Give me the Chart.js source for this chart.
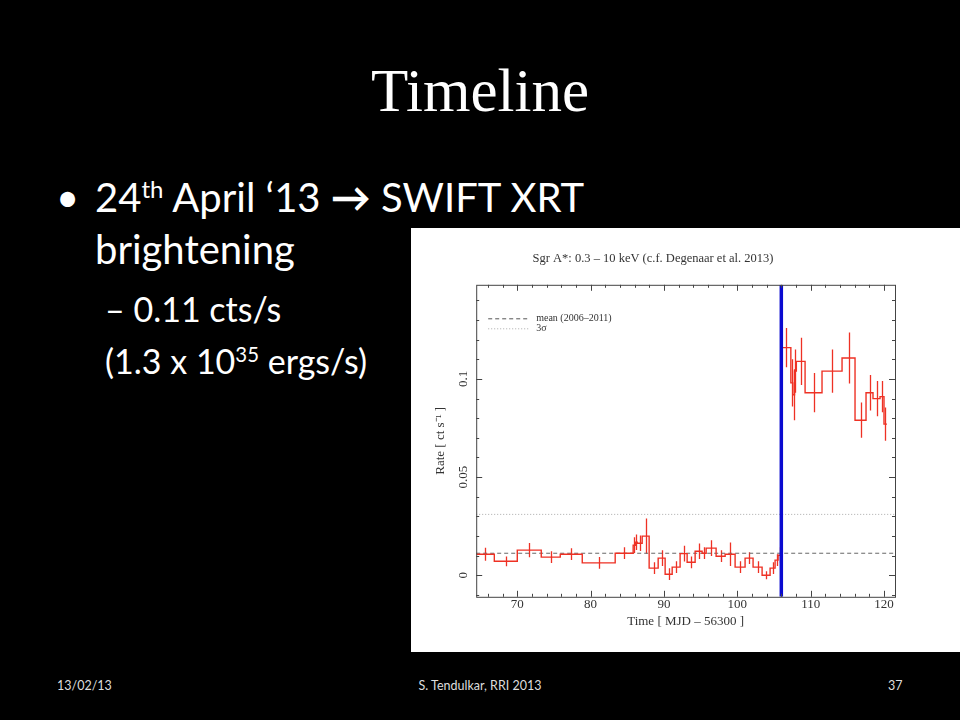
<!DOCTYPE html>
<html>
<head>
<meta charset="utf-8">
<script src="https://cdn.jsdelivr.net/npm/chart.js@4/dist/chart.umd.min.js"></script>
<style>
  body { margin: 0; background: #000; width: 960px; height: 720px; overflow: hidden; position: relative; }
  .t { position: absolute; color: #fff; white-space: nowrap; line-height: 1; }
  #title { font-family: "Liberation Serif", serif; font-size: 61px; left: 0; width: 960px; text-align: center; top: 60px; }
  .b { font-family: Lato, "Open Sans", sans-serif; font-size: 40px; }
  .s { font-family: Lato, "Open Sans", sans-serif; font-size: 34px; }
  .f { font-family: Lato, "Open Sans", sans-serif; font-size: 12.5px; color: #ddd; }
  sup { font-size: 60%; vertical-align: 0.6em; line-height: 0; }
  #panel { position: absolute; left: 411px; top: 228px; width: 549px; height: 424px; background: #fff; }
  #chart { position: absolute; left: 0; top: 0; }
</style>
</head>
<body>
<div class="t" id="title">Timeline</div>
<div class="t b" style="left:56px; top:177px;">•</div>
<div class="t b" style="left:95px; top:177px;">24<sup>th</sup> April ‘13 <b>→</b> SWIFT XRT</div>
<div class="t b" style="left:95px; top:229px;">brightening</div>
<div class="t s" style="left:105px; top:292px;">– 0.11 cts/s</div>
<div class="t s" style="left:105px; top:344px;">(1.3 x 10<sup>35</sup> ergs/s)</div>
<div class="t f" style="left:57px; top:680px;">13/02/13</div>
<div class="t f" style="left:0; width:960px; text-align:center; top:680px;">S. Tendulkar, RRI 2013</div>
<div class="t f" style="left:888px; top:680px;">37</div>

<div id="panel"><canvas id="chart" width="486" height="424"></canvas></div>

<script>
// ===== DATA =====
// bin edges (MJD - 56300), one more than the rates
const binEdges = [64.4, 66.87, 70.0, 73.27, 75.86, 78.86, 83.35, 85.8, 86.1, 86.35, 87.03, 87.98,
    89.21, 90.16, 91.12, 92.2, 93.16, 94.25, 95.2, 95.75, 97.11, 98.34, 99.7, 101.06, 102.15,
    103.38, 104.47, 105.15, 105.56, 105.97, 107.3, 107.55, 107.8, 108.05, 109.24, 111.55,
    114.28, 116.05, 117.55, 118.5, 119.46, 120.0, 120.4];
const rate = [0.0107, 0.0071, 0.0128, 0.0092, 0.0107, 0.0063, 0.0112, 0.0153, 0.0168, 0.0163,
    0.0199, 0.0036, 0.0087, 0.0005, 0.0041, 0.0110, 0.0066, 0.0122, 0.0112, 0.0138, 0.0097,
    0.0107, 0.0041, 0.0087, 0.0041, 0.0000, 0.0036, 0.0077, 0.0102,
    0.116, 0.098, 0.092, 0.104, 0.109, 0.093, 0.104, 0.1107, 0.079, 0.093, 0.090, 0.091, 0.077];
const rateErr = [0.0033, 0.0025, 0.0036, 0.003, 0.003, 0.003, 0.003, 0.004, 0.004, 0.004,
    0.009, 0.003, 0.004, 0.003, 0.003, 0.004, 0.003, 0.004, 0.003, 0.004, 0.003,
    0.006, 0.003, 0.003, 0.003, 0.002, 0.003, 0.003, 0.004,
    0.010, 0.012, 0.013, 0.011, 0.012, 0.010, 0.011, 0.013, 0.009, 0.009, 0.009, 0.008, 0.0085];
const meanRate = 0.0112;     // mean (2006-2011)
const sigmaLevel = 0.031;    // 3 sigma
const brightenTime = 106.0;  // 24 April 2013
const xRange = [64.4, 121.5];
const yRange = [-0.011, 0.148];
const xMinorStep = 2;
const yMinorStep = 0.01;

const RED = "#ee3124";
const SERIF = "'Liberation Serif', 'Times New Roman', serif";

// step line points
const stepPoints = rate.map((r, i) => ({ x: binEdges[i], y: r }));
stepPoints.push({ x: binEdges[binEdges.length - 1], y: rate[rate.length - 1] });

// ===== PLUGINS =====
const errorBars = {
    id: "errorBars",
    beforeDatasetsDraw(chart) {
        const { ctx, scales: { x, y } } = chart;
        ctx.save();
        ctx.beginPath();
        ctx.rect(chart.chartArea.left, chart.chartArea.top,
            chart.chartArea.right - chart.chartArea.left, chart.chartArea.bottom - chart.chartArea.top);
        ctx.clip();
        ctx.strokeStyle = RED;
        ctx.lineWidth = 1.3;
        rate.forEach((r, i) => {
            const px = Math.round(x.getPixelForValue((binEdges[i] + binEdges[i + 1]) / 2)) + 0.5;
            ctx.beginPath();
            ctx.moveTo(px, y.getPixelForValue(r - rateErr[i]));
            ctx.lineTo(px, y.getPixelForValue(r + rateErr[i]));
            ctx.stroke();
        });
        ctx.restore();
    }
};

const frame = {
    id: "frame",
    afterDraw(chart) {
        const { ctx, chartArea: a, scales: { x, y } } = chart;
        ctx.save();
        ctx.strokeStyle = "#444";
        ctx.lineWidth = 1;
        ctx.strokeRect(a.left + 0.5, a.top + 0.5, a.right - a.left, a.bottom - a.top);

        const tick = (px, len, vertical) => {
            ctx.beginPath();
            if (vertical) {
                ctx.moveTo(px, a.bottom); ctx.lineTo(px, a.bottom - len);
                ctx.moveTo(px, a.top); ctx.lineTo(px, a.top + len);
            } else {
                ctx.moveTo(a.left, px); ctx.lineTo(a.left + len, px);
                ctx.moveTo(a.right, px); ctx.lineTo(a.right - len, px);
            }
            ctx.stroke();
        };
        for (let v = Math.ceil(xRange[0] / xMinorStep) * xMinorStep; v <= xRange[1]; v += xMinorStep) {
            const major = Math.abs(v % 10) < 1e-6;
            tick(Math.round(x.getPixelForValue(v)) + 0.5, major ? 6 : 3, true);
        }
        for (let k = Math.ceil(yRange[0] / yMinorStep); k * yMinorStep <= yRange[1]; k++) {
            const major = k % 5 === 0;
            tick(Math.round(y.getPixelForValue(k * yMinorStep)) + 0.5, major ? 6 : 3, false);
        }

        // legend (top left, inside the frame)
        const lx = a.left + 12, ly = a.top + 34;
        ctx.strokeStyle = "#555";
        ctx.setLineDash([4, 3]);
        ctx.beginPath(); ctx.moveTo(lx, ly); ctx.lineTo(lx + 42, ly); ctx.stroke();
        ctx.strokeStyle = "#aaa";
        ctx.setLineDash([1, 2]);
        ctx.beginPath(); ctx.moveTo(lx, ly + 10); ctx.lineTo(lx + 42, ly + 10); ctx.stroke();
        ctx.setLineDash([]);
        ctx.fillStyle = "#333";
        ctx.font = "10px " + SERIF;
        ctx.textBaseline = "middle";
        ctx.fillText("mean (2006\u20132011)", lx + 48, ly);
        ctx.fillText("3\u03c3", lx + 48, ly + 10);
        ctx.restore();
    }
};

// ===== CHART =====
new Chart(document.getElementById("chart"), {
    type: "line",
    data: {
        datasets: [
            {
                label: "brightening",
                data: [{ x: brightenTime, y: yRange[0] }, { x: brightenTime, y: yRange[1] }],
                borderColor: "#0a0ad0",
                borderWidth: 3.5,
                pointRadius: 0,
                order: 0
            },
            {
                label: "rate",
                data: stepPoints,
                stepped: "before",
                borderColor: RED,
                borderWidth: 1.4,
                pointRadius: 0,
                order: 1
            },
            {
                label: "mean (2006-2011)",
                data: [{ x: xRange[0], y: meanRate }, { x: xRange[1], y: meanRate }],
                borderColor: "#666",
                borderWidth: 1,
                borderDash: [4, 3],
                pointRadius: 0,
                order: 2
            },
            {
                label: "3 sigma",
                data: [{ x: xRange[0], y: sigmaLevel }, { x: xRange[1], y: sigmaLevel }],
                borderColor: "#aaa",
                borderWidth: 1,
                borderDash: [1, 2],
                pointRadius: 0,
                order: 3
            }
        ]
    },
    options: {
        responsive: false,
        animation: false,
        layout: { padding: { left: 0, right: 2, top: 0, bottom: 23 } },
        plugins: {
            legend: { display: false },
            tooltip: { enabled: false },
            title: {
                display: true,
                text: "Sgr A*: 0.3 \u2013 10 keV (c.f. Degenaar et al. 2013)",
                color: "#333",
                font: { family: SERIF, size: 12.5, weight: "normal" },
                padding: { top: 23, bottom: 18.8 }
            }
        },
        scales: {
            x: {
                type: "linear",
                min: xRange[0],
                max: xRange[1],
                grid: { display: false, drawTicks: false },
                border: { display: false },
                ticks: {
                    stepSize: 10,
                    includeBounds: false,
                    padding: 0,
                    color: "#333",
                    font: { family: SERIF, size: 13 }
                },
                title: {
                    display: true,
                    text: "Time [ MJD \u2013 56300 ]",
                    color: "#333",
                    font: { family: SERIF, size: 13 },
                    padding: { top: 1, bottom: 0 }
                }
            },
            y: {
                type: "linear",
                min: yRange[0],
                max: yRange[1],
                grid: { display: false, drawTicks: false },
                border: { display: false },
                ticks: {
                    stepSize: 0.05,
                    includeBounds: false,
                    padding: 1,
                    minRotation: 90,
                    maxRotation: 90,
                    crossAlign: "center",
                    color: "#333",
                    font: { family: SERIF, size: 13 },
                    callback: v => Math.abs(v) < 1e-9 ? "0" : String(Math.round(v * 100) / 100)
                },
                title: {
                    display: true,
                    text: "Rate [ ct s\u207b\u00b9 ]",
                    color: "#333",
                    font: { family: SERIF, size: 13 },
                    padding: { top: 22, bottom: 10 }
                }
            }
        }
    },
    plugins: [errorBars, frame]
});
</script>
</body>
</html>
